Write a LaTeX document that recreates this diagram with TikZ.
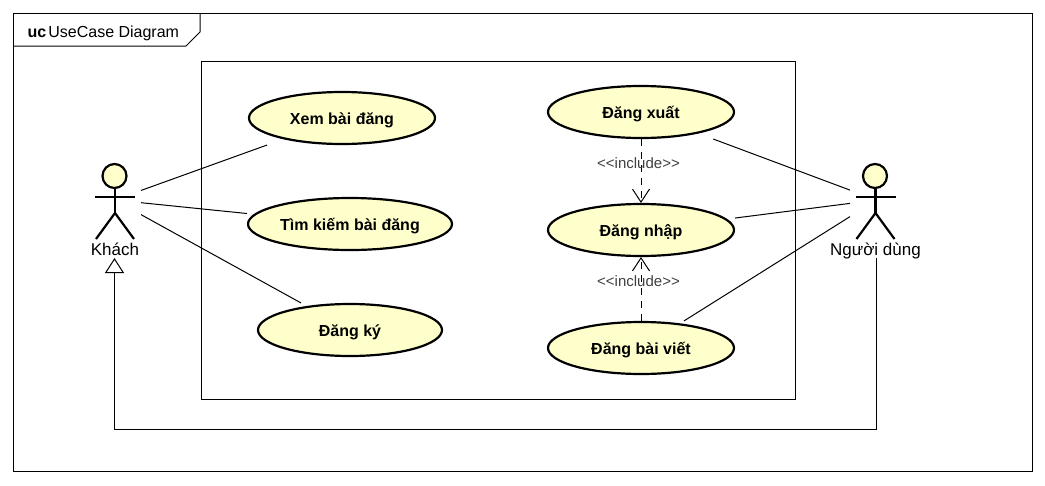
\documentclass[tikz,border=0pt]{standalone}
\usepackage{fontspec}
\setmainfont{Liberation Sans}
\usetikzlibrary{arrows.meta}
\definecolor{ucyellow}{HTML}{FFFFCC}
\tikzset{usecase/.style = {rectangle, inner sep=0pt, outer sep=0pt, minimum height=54pt, text height=16pt, text depth=3pt, font=\fontsize{16}{18}\selectfont\bfseries}}
\tikzset{ucshape/.style = {draw=black, fill=ucyellow, line width=2.2pt}}
\tikzset{actorbox/.style = {rectangle, inner sep=0pt, outer sep=0pt, minimum height=116pt}}
\tikzset{stick/.style = {draw=black, line width=2.2pt}}
\tikzset{assoc/.style = {draw=black, line width=1pt}}
\tikzset{incl/.style = {draw=black, line width=1pt, dash pattern=on 7pt off 6pt, -{Straight Barb[length=13pt,width=17pt]}}}
\tikzset{gener/.style = {draw=black, line width=1pt, -{Triangle[open,fill=white,length=15pt,width=19pt]}}}
\tikzset{inclabel/.style = {text=black!75, inner sep=0pt, text height=13pt, text depth=3pt, font=\fontsize{15}{17}\selectfont}}
\tikzset{actorlabel/.style = {inner sep=0pt, anchor=base, font=\fontsize{17}{19}\selectfont}}

\begin{document}
\begin{tikzpicture}[x=1pt,y=-1pt]
        \newcommand{\ucase}[5]{
            \draw[ucshape] (#2,#3) ellipse (#4-1 and 26);
            \node[usecase, minimum width=2*#4 pt] (#1) at (#2,#3) {#5};
        }
        \newcommand{\stickman}[2]{
            \draw[ucshape] (#1-0.5,176) circle (12);
            \draw[stick] (#1,188) -- (#1,213);
            \draw[stick] (#1-20,197) -- (#1+20,197);
            \draw[stick] (#1-19,239) -- (#1,213) -- (#1+19,239);
        }
        \useasboundingbox (0,0) rectangle (1045,485);

        % Frame
        \draw[assoc] (13.5,13.5) rectangle (1032.5,471.5);
        \draw[assoc] (13.5,46) -- (186,46) -- (200,32) -- (200,13.5);
        \node[anchor=base west, inner sep=0pt, font=\fontsize{16}{18}\selectfont] (title) at (27.5,37) {\textbf{uc}\kern2pt UseCase Diagram};

        % System
        \draw[assoc] (201.5,61.5) rectangle (795.5,399.5);

        % Use cases
        \ucase{xem}{342}{118}{94}{Xem bài đăng}
        \ucase{timkiem}{350}{224}{103}{Tìm kiếm bài đăng}
        \ucase{dangky}{350}{330}{93}{Đăng ký}
        \ucase{dangxuat}{641}{112}{94}{Đăng xuất}
        \ucase{dangnhap}{641}{230}{94}{Đăng nhập}
        \ucase{dangbai}{641}{348}{94}{Đăng bài viết}

        % Actors
        \stickman{115}{khach}
        \stickman{875.5}{nguoidung}
        \node[actorbox, minimum width=53pt] (khach) at (114.5,200) {};
        \node[actorbox, minimum width=53pt] (nguoidung) at (876.5,200) {};
        \node[actorlabel] (khachlabel) at (115,255) {Khách};
        \node[actorlabel] (nguoidunglabel) at (875.5,255) {Người dùng};

        % Connectors
        \draw[assoc] (khach) -- (xem);
        \draw[assoc] (khach) -- (timkiem);
        \draw[assoc] (khach) -- (dangky);
        \draw[assoc] (nguoidung) -- (dangxuat);
        \draw[assoc] (nguoidung) -- (dangnhap);
        \draw[assoc] (nguoidung) -- (dangbai);
        \draw[incl] (dangxuat) -- node[inclabel, pos=0.375, xshift=-2.5pt] (inclxuat) {<{}<include>{}>} (dangnhap);
        \draw[incl] (dangbai) -- node[inclabel, pos=0.625, xshift=-2.5pt] (inclbai) {<{}<include>{}>} (dangnhap);
        \coordinate (route) at (500,429.5);
        \draw[gener] (nguoidung.south) |- (route) -| (khach.south);
    \end{tikzpicture}
\end{document}
